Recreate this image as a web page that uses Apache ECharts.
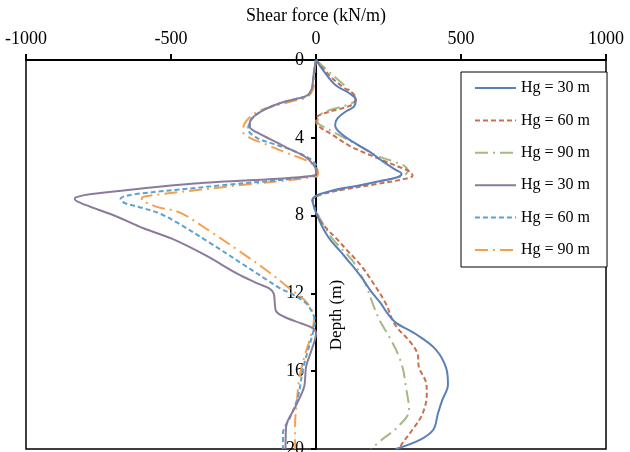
<!DOCTYPE html>
<html>
<head>
<meta charset="utf-8">
<script src="https://cdn.jsdelivr.net/npm/echarts@6/dist/echarts.min.js"></script>
<style>
html,body{margin:0;padding:0;background:#fff;}
#chart{width:630px;height:452px;}
</style>
</head>
<body>
<div id="chart"></div>
<script>
// Series names (legend labels)
const seriesNames = ['Hg = 30 m', 'Hg = 60 m', 'Hg = 90 m', 'Hg = 30 m', 'Hg = 60 m', 'Hg = 90 m'];
const xTicks = [-1000, -500, 0, 500, 1000];
const yTicks = [0, 4, 8, 12, 16, 20];

// Hg = 30 m (right side, solid blue)
const depthA30 = [0,0.6,1.3,1.7,2.05,2.4,2.65,3.0,3.35,3.7,4.2,4.7,5.2,5.65,5.85,6.0,6.2,6.45,6.7,6.95,7.2,7.6,8.2,8.8,9.3,9.8,10.3,10.8,11.3,11.9,12.5,13.0,13.5,14.1,14.9,15.9,16.7,17.5,18.2,19.0,19.5,20];
const shearA30 = [0,28,68,114,137,131,103,74,66,80,126,183,229,275,295,285,230,150,60,5,-12,-6,10,30,52,82,110,138,163,190,223,245,275,345,414,450,455,435,420,405,362,275];

// Hg = 60 m (right side, dashed red)
const depthA60 = [0,0.77,1.37,1.7,2.0,2.3,2.6,2.85,3.05,3.35,3.85,4.4,4.8,5.15,5.5,5.75,5.95,6.1,6.4,6.65,6.95,7.2,7.6,8.2,8.8,9.25,9.8,10.3,10.8,11.3,12.5,13.6,14.5,15.1,15.8,16.7,17.2,18.2,19.0,19.7,20];
const shearA60 = [0,45,91,126,137,125,60,10,0,5,57,114,172,229,287,325,333,310,200,100,10,-12,-5,12,45,75,108,140,167,190,240,272,325,350,355,381,382,367,333,298,287];

// Hg = 90 m (right side, dash-dot green)
const depthA90 = [0,0.77,1.37,1.8,2.05,2.3,2.65,2.9,3.2,3.4,3.95,4.4,4.9,5.2,5.45,5.7,5.95,6.3,6.6,6.95,7.2,7.6,8.05,8.7,9.25,10.3,10.8,11.5,12.5,13.4,14.3,15.1,15.9,16.8,18.0,18.85,19.5,20];
const shearA90 = [0,57,103,131,137,110,33,10,5,22,91,148,206,264,305,317,300,200,100,10,-12,-5,10,35,60,125,145,170,195,220,255,282,300,310,321,283,229,189];

// Hg = 30 m (left side, solid purple)
const depthB30 = [0,0.5,1.0,1.45,1.8,1.97,2.2,2.5,2.85,3.2,3.45,3.75,4.05,4.5,4.95,5.35,5.7,5.92,6.35,6.9,7.05,7.15,7.45,7.97,8.65,9.2,10.05,11.0,11.5,11.75,12.0,12.5,12.9,13.2,13.55,13.8,14.05,14.9,15.75,16.8,17.8,18.85,20];
const shearB30 = [0,-6,-10,-14,-28,-60,-120,-170,-210,-228,-228,-200,-160,-101,-40,-10,0,-3,-420,-780,-826,-832,-795,-700,-595,-495,-380,-270,-200,-160,-146,-142,-138,-110,-50,-10,0,-15,-34,-41,-70,-103,-105];

// Hg = 60 m (left side, dashed light blue)
const depthB60 = [0,0.5,1.0,1.45,1.85,2.0,2.3,2.65,3.1,3.55,4.0,4.3,4.6,5.05,5.4,5.7,5.95,6.45,6.9,7.05,7.15,7.35,7.62,7.9,8.35,9.4,10.5,11.3,11.7,12.1,12.5,13.0,13.4,14.0,15.1,15.9,17.3,18.4,19.2,20];
const shearB60 = [0,-6,-10,-14,-30,-70,-140,-190,-225,-234,-204,-150,-90,-24,0,3,-3,-330,-625,-668,-674,-660,-595,-538,-480,-366,-252,-170,-128,-75,-35,-12,-4,-10,-31,-45,-62,-90,-114,-114];

// Hg = 90 m (left side, dash-dot orange)
const depthB90 = [0,0.5,1.0,1.5,1.9,2.15,2.6,3.15,3.65,4.0,4.35,4.7,5.15,5.5,5.8,6.0,6.5,6.95,7.05,7.2,7.37,7.55,7.85,8.8,9.85,10.8,11.7,12.5,13.3,14.3,15.3,16.5,17.6,18.7,20];
const shearB90 = [0,-4,-6,-10,-30,-90,-193,-241,-253,-228,-170,-114,-36,0,7,0,-300,-560,-598,-601,-578,-549,-469,-366,-262,-172,-95,-30,-7,-20,-41,-59,-66,-72,-72];

const colors = ['#5b7fb9', '#c8704f', '#a5b985', '#8b7b9b', '#5ba3cf', '#f5a04e'];
const dashes = ['solid', [5, 3], [13, 5, 2, 5], 'solid', [5, 3], [13, 5, 2, 5]];

function pairs(sh, dp) { return sh.map((v, i) => [v, dp[i]]); }
const allData = [
  pairs(shearA30, depthA30), pairs(shearA60, depthA60), pairs(shearA90, depthA90),
  pairs(shearB30, depthB30), pairs(shearB60, depthB60), pairs(shearB90, depthB90)
];
// distinct internal names (left-side ones carry a trailing space, trimmed in legend)
const internalNames = seriesNames.map((n, i) => i < 3 ? n : n + ' ');

const FONT = 'Liberation Serif';
const GRID_LEFT = 26, GRID_RIGHT = 24;
const plotW = 630 - GRID_LEFT - GRID_RIGHT;
const chart = echarts.init(document.getElementById('chart'), null, {renderer: 'canvas'});
chart.setOption({
  animation: false,
  backgroundColor: '#fff',
  grid: {left: GRID_LEFT, right: GRID_RIGHT, top: 60, bottom: 3, outerBoundsMode: 'none', containLabel: false,
         show: true, borderColor: '#000', borderWidth: 1.5, backgroundColor: 'transparent'},
  legend: {
    orient: 'vertical', left: 461, top: 72,
    padding: [8, 17, 9, 13],
    itemWidth: 41, itemHeight: 16, itemGap: 16.4,
    borderColor: '#000', borderWidth: 1, backgroundColor: '#fff',
    data: internalNames,
    formatter: n => n.trim(),
    itemStyle: {opacity: 0},
    textStyle: {fontFamily: FONT, fontSize: 16, color: '#000'}
  },
  xAxis: {
    type: 'value', position: 'top', min: xTicks[0], max: xTicks[xTicks.length - 1], interval: 500,
    name: 'Shear force (kN/m)', nameLocation: 'middle', nameGap: 34,
    nameTextStyle: {fontFamily: FONT, fontSize: 18, color: '#000'},
    axisLine: {onZero: false, lineStyle: {color: '#000', width: 2}},
    axisTick: {show: true, length: 6, lineStyle: {color: '#000', width: 2}},
    axisLabel: {fontFamily: FONT, fontSize: 18, color: '#000', margin: 12, formatter: v => String(v)},
    splitLine: {show: false}
  },
  yAxis: {
    type: 'value', inverse: true, min: yTicks[0], max: yTicks[yTicks.length - 1], interval: 4,
    position: 'left', offset: -plotW / 2,
    axisLine: {onZero: false, lineStyle: {color: '#000', width: 2}},
    axisTick: {show: true, length: 5, lineStyle: {color: '#000', width: 2}},
    axisLabel: {fontFamily: FONT, fontSize: 18, color: '#000', margin: 12, formatter: v => String(v)},
    splitLine: {show: false}
  },
  graphic: [{
    type: 'text', x: 337, y: 315, rotation: Math.PI / 2,
    style: {text: 'Depth (m)', fontFamily: FONT, fontSize: 17, fill: '#000', align: 'center', verticalAlign: 'middle'}
  }],
  series: allData.map((d, i) => ({
    name: internalNames[i], type: 'line', data: d,
    smooth: 0.35, symbol: 'none', showSymbol: false,
    lineStyle: {color: colors[i], width: 2, type: dashes[i]},
    itemStyle: {color: colors[i]},
    z: 3 + (5 - i)
  }))
});
</script>
</body>
</html>
